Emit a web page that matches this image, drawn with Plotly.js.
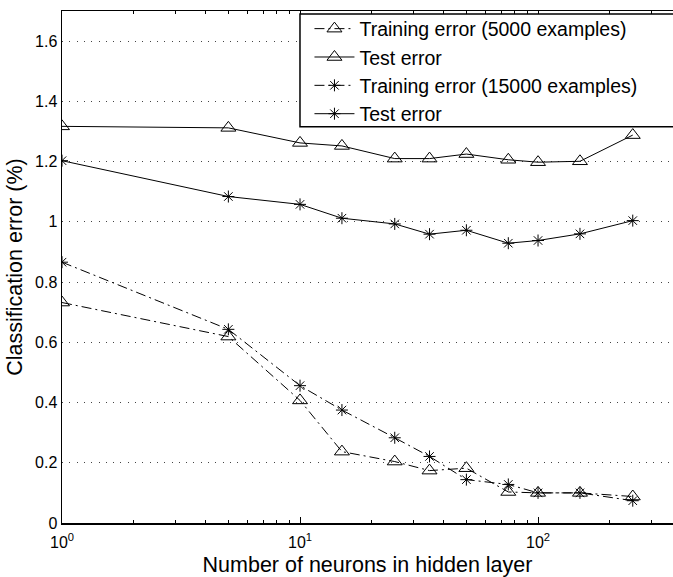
<!DOCTYPE html>
<html>
<head>
<meta charset="utf-8">
<script src="https://cdn.plot.ly/plotly-3.0.1.min.js"></script>
<style>html,body{margin:0;padding:0;background:#fff;overflow:hidden;}#chart{width:673px;height:577px;overflow:hidden;}</style>
</head>
<body>
<div id="chart"></div>
<script>
const neurons = [1, 5, 10, 15, 25, 35, 50, 75, 100, 150, 250];
const train5000 = [0.732, 0.619, 0.407, 0.237, 0.204, 0.174, 0.182, 0.103, 0.100, 0.100, 0.088];
const test5000  = [1.317, 1.312, 1.262, 1.252, 1.210, 1.210, 1.225, 1.206, 1.198, 1.201, 1.288];
const train15000 = [0.866, 0.643, 0.456, 0.375, 0.283, 0.221, 0.144, 0.128, 0.100, 0.100, 0.074];
const test15000  = [1.203, 1.084, 1.058, 1.012, 0.993, 0.959, 0.972, 0.929, 0.938, 0.960, 1.004];
const seriesNames = ['Training error (5000 examples)', 'Test error', 'Training error (15000 examples)', 'Test error'];
const yTicks = [0, 0.2, 0.4, 0.6, 0.8, 1, 1.2, 1.4, 1.6];
const yTickText = ['0', '0.2', '0.4', '0.6', '0.8', '1', '1.2', '1.4', '1.6'];
const xTicks = [1, 10, 100];
const xTickText = ['10<sup>0</sup>', '10<sup>1</sup>', '10<sup>2</sup>'];
const xMinorTicks = [2, 3, 4, 5, 6, 7, 8, 9, 20, 30, 40, 50, 60, 70, 80, 90, 200, 300];

const tri = {symbol: 'triangle-up-open', size: 13, color: '#000', line: {color: '#000', width: 1}};
const star = {symbol: 'asterisk-open', size: 10, color: '#000', line: {color: '#000', width: 1}};
const dashDot = '10px,4px,2px,4px';

const traces = [
  {x: neurons, y: train5000, name: seriesNames[0], mode: 'lines+markers', line: {color: '#000', width: 1, dash: dashDot}, marker: tri},
  {x: neurons, y: test5000, name: seriesNames[1], mode: 'lines+markers', line: {color: '#000', width: 1}, marker: tri},
  {x: neurons, y: train15000, name: seriesNames[2], mode: 'lines+markers', line: {color: '#000', width: 1, dash: dashDot}, marker: star},
  {x: neurons, y: test15000, name: seriesNames[3], mode: 'lines+markers', line: {color: '#000', width: 1}, marker: star}
];

const layout = {
  width: 673, height: 577,
  margin: {l: 62, r: 0, t: 11, b: 54},
  paper_bgcolor: '#fff', plot_bgcolor: '#fff',
  font: {family: 'Liberation Sans, Arial, sans-serif', color: '#000', size: 16},
  showlegend: true,
  legend: {
    x: 0.405, y: 1.003, xanchor: 'left', yanchor: 'top',
    borderwidth: 0, bgcolor: 'rgba(255,255,255,0)',
    font: {size: 19.5}, itemwidth: 40, tracegroupgap: 0
  },
  shapes: [{
    type: 'rect', xref: 'paper', yref: 'paper',
    x0: 0.3895, x1: 1.1, y0: 0.774, y1: 0.994,
    line: {color: '#000', width: 1.5}, fillcolor: '#fff', layer: 'above'
  }],
  xaxis: {
    type: 'log', range: [0, 2.567], autorange: false,
    tickmode: 'array', tickvals: xTicks, ticktext: xTickText,
    ticks: 'inside', ticklen: 6, tickcolor: '#000', tickwidth: 1,
    minor: {tickmode: 'array', tickvals: xMinorTicks, ticks: 'inside', ticklen: 3, tickcolor: '#000', tickwidth: 1, showgrid: false},
    showline: true, linecolor: '#000', linewidth: 1.5, mirror: 'allticks',
    showgrid: false, zeroline: false, automargin: false,
    tickfont: {size: 16}, ticklabelstandoff: 4,
    title: {text: 'Number of neurons in hidden layer', font: {size: 21.5}, standoff: 8}
  },
  yaxis: {
    range: [0, 1.7], autorange: false,
    tickmode: 'array', tickvals: yTicks, ticktext: yTickText,
    ticks: '', showline: true, linecolor: '#000', linewidth: 1.5, mirror: false,
    showgrid: true, gridcolor: '#444', griddash: '1px,6.3px', gridwidth: 1,
    zeroline: false, automargin: false,
    tickfont: {size: 16},
    title: {text: 'Classification error (%)', font: {size: 21.5}, standoff: 6}
  }
};

Plotly.newPlot('chart', traces, layout, {displayModeBar: false, staticPlot: true});
</script>
</body>
</html>
